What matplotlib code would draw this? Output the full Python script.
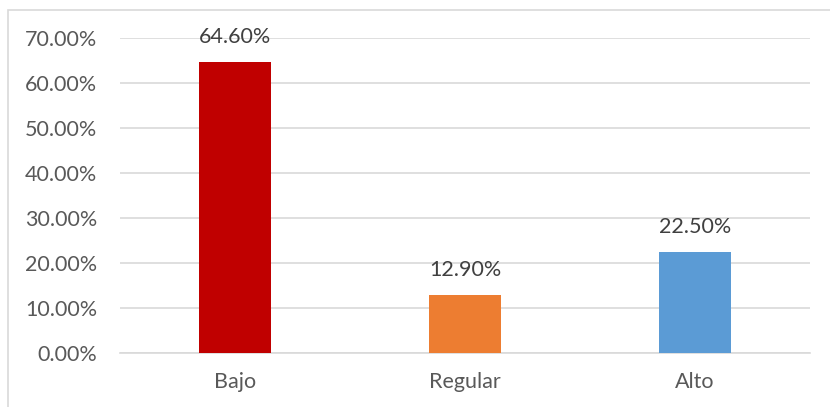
import matplotlib.pyplot as plt
from matplotlib.patches import Rectangle
from matplotlib.ticker import FuncFormatter

categories = ['Bajo', 'Regular', 'Alto']
values = [64.6, 12.9, 22.5]
colors = ['#c00000', '#ed7d31', '#5b9bd5']
yticks = [0, 10, 20, 30, 40, 50, 60, 70]

plt.rcParams['font.family'] = ['Lato', 'DejaVu Sans']

fig = plt.figure(figsize=(8.3, 4.07), dpi=100)
ax = fig.add_axes([120 / 830, 1 - 353 / 407, 690 / 830, 315 / 407])

# light border round the chart area
fig.patches.append(Rectangle((8 / 830, -0.1), 1.2, 1.1 - 10 / 407,
                             transform=fig.transFigure, fill=False,
                             edgecolor='#d9d9d9', lw=1.2))

x = range(len(categories))
bars = ax.bar(x, values, width=0.315, color=colors, zorder=3)
for b, v in zip(bars, values):
    ax.text(b.get_x() + b.get_width() / 2, v + 3.3, '{:.2f}%'.format(v),
            ha='center', va='bottom', fontsize=15.5, color='#404040')

ax.set_xlim(-0.5, 2.5)
ax.set_ylim(0, 70)
ax.set_yticks(yticks)
ax.yaxis.set_major_formatter(FuncFormatter(lambda v, p: '{:.2f}%'.format(v)))
ax.set_xticks(list(x))
ax.set_xticklabels(categories)
ax.grid(axis='y', color='#d9d9d9', lw=1.2, zorder=0)
for s in ['top', 'right', 'left']:
    ax.spines[s].set_visible(False)
ax.spines['bottom'].set_color('#d9d9d9')
ax.spines['bottom'].set_linewidth(1.2)
ax.tick_params(length=0, labelsize=15.5, labelcolor='#595959')
ax.tick_params(axis='y', pad=16.5)
ax.tick_params(axis='x', pad=14)

fig.savefig('out.png', dpi=100)
